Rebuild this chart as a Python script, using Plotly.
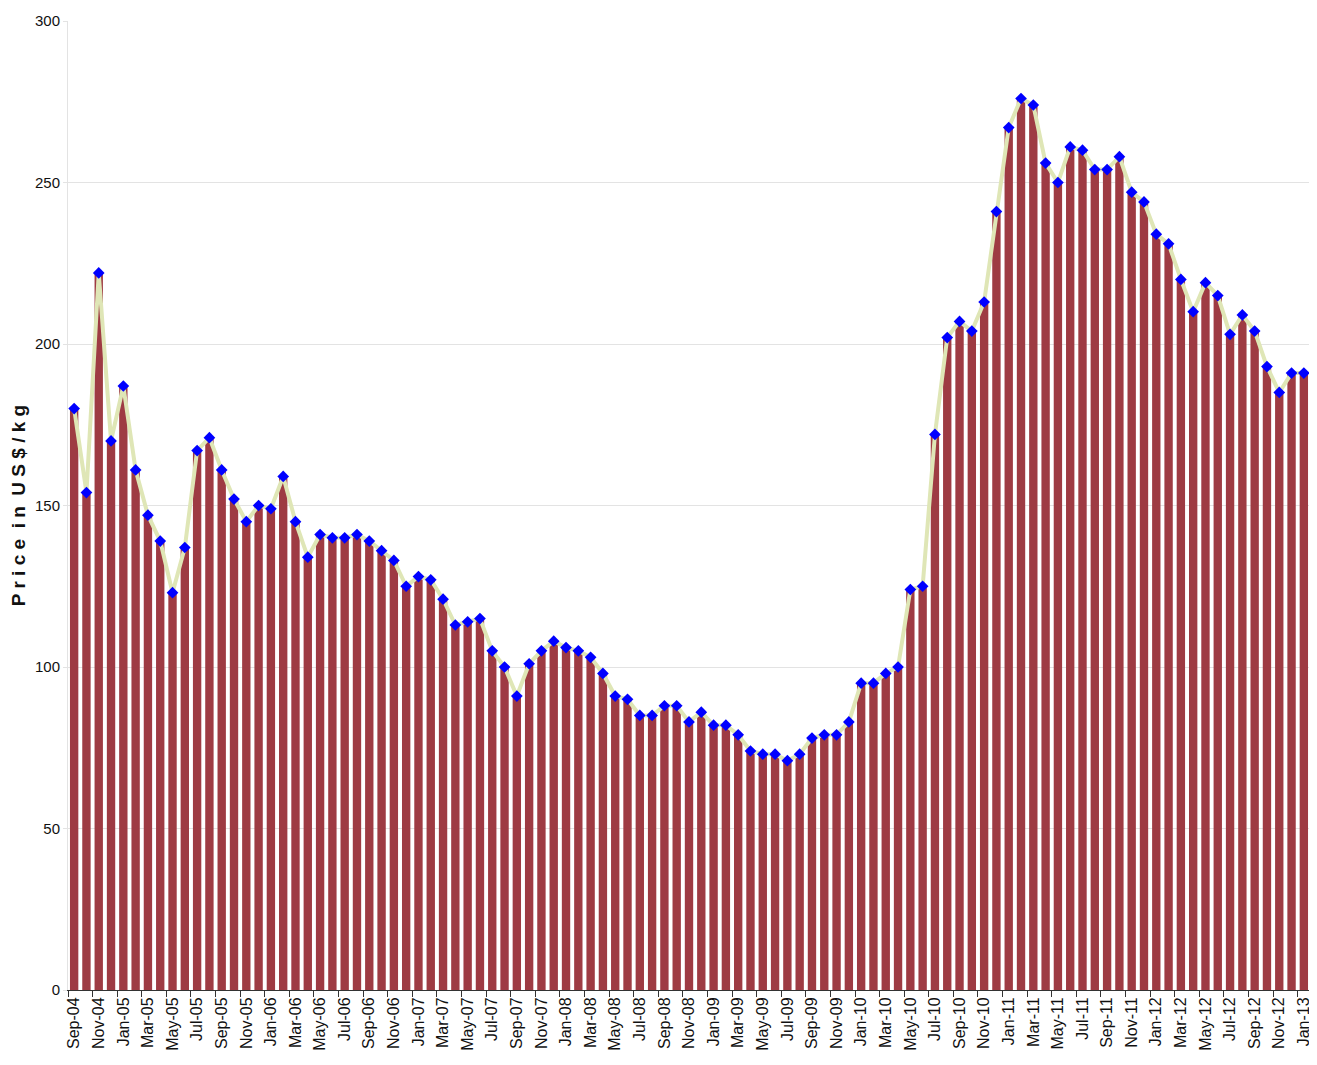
import plotly.graph_objects as go

months = [
    "Sep-04", "Oct-04", "Nov-04", "Dec-04",
    "Jan-05", "Feb-05", "Mar-05", "Apr-05", "May-05", "Jun-05", "Jul-05", "Aug-05", "Sep-05", "Oct-05", "Nov-05", "Dec-05",
    "Jan-06", "Feb-06", "Mar-06", "Apr-06", "May-06", "Jun-06", "Jul-06", "Aug-06", "Sep-06", "Oct-06", "Nov-06", "Dec-06",
    "Jan-07", "Feb-07", "Mar-07", "Apr-07", "May-07", "Jun-07", "Jul-07", "Aug-07", "Sep-07", "Oct-07", "Nov-07", "Dec-07",
    "Jan-08", "Feb-08", "Mar-08", "Apr-08", "May-08", "Jun-08", "Jul-08", "Aug-08", "Sep-08", "Oct-08", "Nov-08", "Dec-08",
    "Jan-09", "Feb-09", "Mar-09", "Apr-09", "May-09", "Jun-09", "Jul-09", "Aug-09", "Sep-09", "Oct-09", "Nov-09", "Dec-09",
    "Jan-10", "Feb-10", "Mar-10", "Apr-10", "May-10", "Jun-10", "Jul-10", "Aug-10", "Sep-10", "Oct-10", "Nov-10", "Dec-10",
    "Jan-11", "Feb-11", "Mar-11", "Apr-11", "May-11", "Jun-11", "Jul-11", "Aug-11", "Sep-11", "Oct-11", "Nov-11", "Dec-11",
    "Jan-12", "Feb-12", "Mar-12", "Apr-12", "May-12", "Jun-12", "Jul-12", "Aug-12", "Sep-12", "Oct-12", "Nov-12", "Dec-12",
    "Jan-13",
]

price = [
    180, 154, 222, 170,
    187, 161, 147, 139, 123, 137, 167, 171, 161, 152, 145, 150,
    149, 159, 145, 134, 141, 140, 140, 141, 139, 136, 133, 125,
    128, 127, 121, 113, 114, 115, 105, 100, 91, 101, 105, 108,
    106, 105, 103, 98, 91, 90, 85, 85, 88, 88, 83, 86,
    82, 82, 79, 74, 73, 73, 71, 73, 78, 79, 79, 83,
    95, 95, 98, 100, 124, 125, 172, 202, 207, 204, 213, 241,
    267, 276, 274, 256, 250, 261, 260, 254, 254, 258, 247, 244,
    234, 231, 220, 210, 219, 215, 203, 209, 204, 193, 185, 191,
    191,
]

tick_labels = months[::2]

y_ticks = [0, 50, 100, 150, 200, 250, 300]

font_family = "Liberation Sans Narrow, Liberation Sans, Arial, sans-serif"

fig = go.Figure()
fig.add_trace(go.Bar(
    x=months, y=price,
    marker=dict(color="#9e3b43", line=dict(width=0)),
    showlegend=False,
))
fig.add_trace(go.Scatter(
    x=months, y=price,
    mode="lines+markers",
    line=dict(color="#dfe6b6", width=4),
    marker=dict(symbol="diamond", color="#0000ff", size=9),
    showlegend=False,
))

fig.update_layout(
    width=1317, height=1065,
    margin=dict(l=60, r=15, t=13, b=83, autoexpand=False),
    paper_bgcolor="white", plot_bgcolor="white",
    bargap=0.32,
    font=dict(family=font_family, color="#111111", size=14),
)
fig.update_xaxes(
    type="category",
    automargin=False,
    tickmode="array", tickvals=tick_labels, ticktext=tick_labels,
    tickangle=-90,
    tickson="boundaries",
    ticks="outside", ticklen=6, tickcolor="#333333",
    showline=True, linecolor="#333333", linewidth=1,
    showgrid=False,
    ticklabeloverflow="allow",
    tickfont=dict(size=16, family=font_family),
    range=[-0.5, len(months) - 0.5],
)
fig.update_yaxes(
    automargin=False,
    range=[0, 300],
    tickvals=y_ticks,
    showgrid=True, gridcolor="#e3e3e3", gridwidth=1,
    showline=True, linecolor="#e3e3e3", linewidth=1,
    ticks="outside", ticklen=4, tickcolor="#e3e3e3",
    zeroline=False,
    tickfont=dict(size=15, family=font_family),
    title=dict(text="<b>P r i c e  i n  U S $ / k g</b>", font=dict(size=19, family=font_family), standoff=14),
)

fig.write_html("out.html")
